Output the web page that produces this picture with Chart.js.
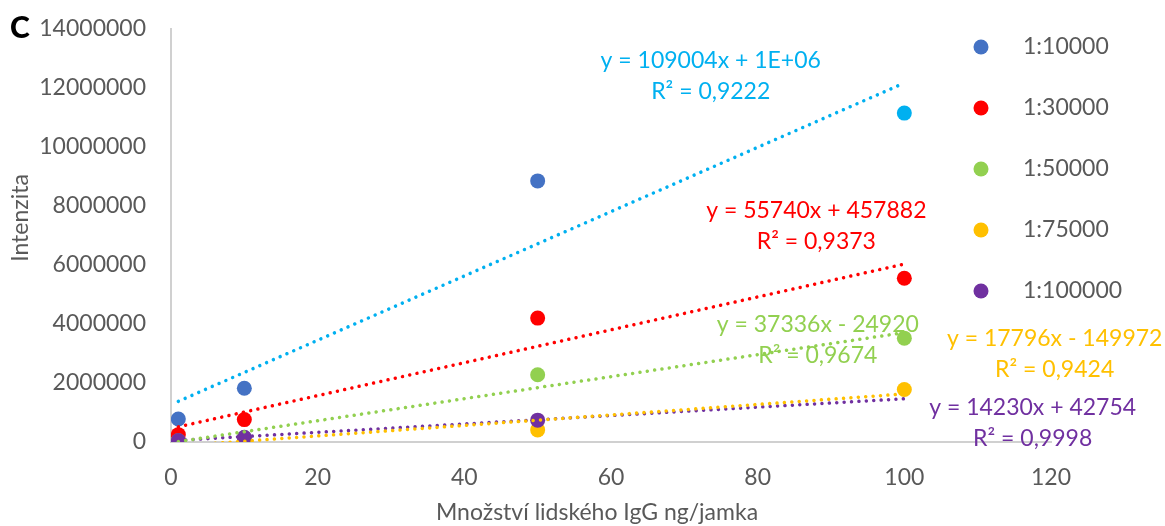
<!DOCTYPE html>
<html>
<head>
<meta charset="utf-8">
<script src="https://cdn.jsdelivr.net/npm/chart.js@4"></script>
<style>
  html, body { margin: 0; background: #fff; }
  #wrap { width: 1165px; height: 526px; position: relative; }
</style>
</head>
<body>
<div id="wrap"><canvas id="chart"></canvas></div>
<script>
// data
const dilutions = ["1:10000", "1:30000", "1:50000", "1:75000", "1:100000"];
const amounts = [1, 10, 50, 100];
const intensity10000 = [780000, 1820000, 8850000, 11150000];
const intensity30000 = [250000, 760000, 4200000, 5550000];
const intensity50000 = [40000, 140000, 2280000, 3520000];
const intensity75000 = [0, 0, 410000, 1780000];
const intensity100000 = [50000, 160000, 740000, null];
const trendSlopes = [109004, 55740, 37336, 17796, 14230];
const trendIntercepts = [1270000, 457882, -24920, -149972, 42754];
const trendEquations = ["y = 109004x + 1E+06", "y = 55740x + 457882", "y = 37336x - 24920", "y = 17796x - 149972", "y = 14230x + 42754"];
const trendR2 = ["R² = 0,9222", "R² = 0,9373", "R² = 0,9674", "R² = 0,9424", "R² = 0,9998"];
const xTicks = [0, 20, 40, 60, 80, 100, 120];
const yTicks = [0, 2000000, 4000000, 6000000, 8000000, 10000000, 12000000, 14000000];
const xTitle = "Množství lidského IgG ng/jamka";
const yTitle = "Intenzita";
const panelLetter = "C";

const seriesValues = [intensity10000, intensity30000, intensity50000, intensity75000, intensity100000];

// styles
const pointColors = ["#4472C4", "#FF0000", "#92D050", "#FFC000", "#7030A0"];
const trendColors = ["#00B0F0", "#FF0000", "#92D050", "#FFC000", "#7030A0"];
const highlight = { series: 0, index: 3, color: "#00B0F0" };
// where each equation label sits, in data units
const labelAnchors = [[73.6, 12940000], [88.0, 7830000], [88.2, 3990000], [120.5, 3510000], [117.5, 1175000]];
const textGray = "#595959";
const fontFamily = "Lato, 'Open Sans', sans-serif";

Chart.defaults.font.family = fontFamily;
Chart.defaults.color = textGray;

const datasets = [];

seriesValues.forEach((values, i) => {
  datasets.push({
    type: "scatter",
    label: dilutions[i],
    data: amounts.map((x, j) => ({ x, y: values[j] })).filter((p) => p.y !== null),
    pointRadius: 7.5,
    pointHoverRadius: 7.5,
    pointBorderWidth: 0,
    pointBackgroundColor: amounts.map((_, j) =>
      highlight.series === i && highlight.index === j ? highlight.color : pointColors[i]),
    borderColor: pointColors[i],
    showLine: false,
    order: 1 + (seriesValues.length - 1 - i),
  });
});

seriesValues.forEach((_, i) => {
  const xs = [amounts[0], amounts[amounts.length - 1]];
  datasets.push({
    type: "line",
    label: "trend " + dilutions[i],
    data: xs.map((x) => ({ x, y: trendSlopes[i] * x + trendIntercepts[i] })),
    borderColor: trendColors[i],
    borderWidth: 3.5,
    borderDash: [0.01, 7.4],
    borderCapStyle: "round",
    pointRadius: 0,
    fill: false,
    order: 0,
  });
});

const overlay = {
  id: "overlay",
  afterDatasetsDraw(chart) {
    const { ctx, scales } = chart;
    ctx.save();
    ctx.font = "23px " + fontFamily;
    ctx.textAlign = "center";
    ctx.textBaseline = "middle";
    labelAnchors.forEach(([lx, ly], i) => {
      const px = scales.x.getPixelForValue(lx);
      const py = scales.y.getPixelForValue(ly);
      ctx.fillStyle = trendColors[i];
      ctx.fillText(trendEquations[i], px, py);
      ctx.fillText(trendR2[i], px, py + 31);
    });
    ctx.restore();
  },
  afterDraw(chart) {
    const { ctx } = chart;
    ctx.save();
    // legend, laid over the plot like in the original
    ctx.font = "23px " + fontFamily;
    ctx.textAlign = "left";
    ctx.textBaseline = "middle";
    dilutions.forEach((name, i) => {
      const y = 47 + i * 61;
      ctx.fillStyle = pointColors[i];
      ctx.beginPath();
      ctx.arc(981, y, 7.5, 0, Math.PI * 2);
      ctx.fill();
      ctx.fillStyle = textGray;
      ctx.fillText(name, 1023, y);
    });

    // axis titles
    ctx.textAlign = "center";
    ctx.fillText(xTitle, 597, 513);
    ctx.save();
    ctx.translate(21, 218);
    ctx.rotate(-Math.PI / 2);
    ctx.fillText(yTitle, 0, 0);
    ctx.restore();

    ctx.font = "900 30px " + fontFamily;
    ctx.fillStyle = "#000";
    ctx.fillText(panelLetter, 20, 28);
    ctx.restore();
  },
};

new Chart(document.getElementById("chart"), {
  data: { datasets },
  options: {
    responsive: true,
    maintainAspectRatio: false,
    animation: false,
    layout: { padding: { top: 29, right: 114, left: 0, bottom: 0 } },
    plugins: {
      legend: { display: false },
      tooltip: { enabled: false },
    },
    scales: {
      x: {
        type: "linear",
        min: xTicks[0],
        max: xTicks[xTicks.length - 1],
        afterBuildTicks: (s) => { s.ticks = xTicks.map((value) => ({ value })); },
        grid: { display: false, drawTicks: false },
        border: { color: "#d0d0d0", width: 2 },
        ticks: { padding: 22, font: { size: 23 }, color: textGray },
        afterFit: (s) => { s.height = 84; s.paddingLeft = 0; s.paddingRight = 0; },
      },
      y: {
        type: "linear",
        min: yTicks[0],
        max: yTicks[yTicks.length - 1],
        afterBuildTicks: (s) => { s.ticks = yTicks.map((value) => ({ value })); },
        grid: { display: false, drawTicks: false },
        border: { color: "#d0d0d0", width: 2 },
        ticks: { padding: 25, font: { size: 23 }, color: textGray, callback: (v) => String(v) },
        afterFit: (s) => { s.width = 171; s.paddingTop = 0; s.paddingBottom = 0; },
      },
    },
  },
  plugins: [overlay],
});
</script>
</body>
</html>
